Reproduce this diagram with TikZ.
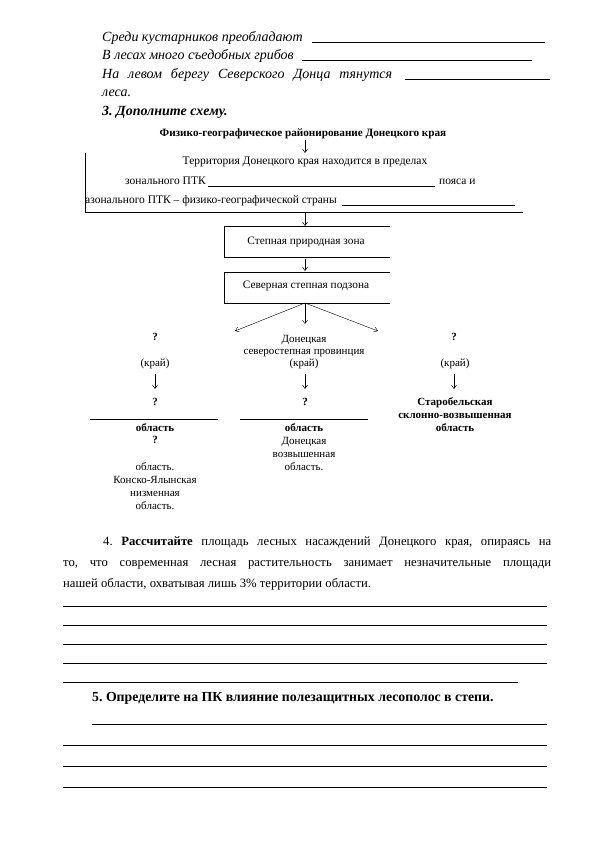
\documentclass[tikz,border=0pt]{standalone}
\usepackage{fontspec}
\setmainfont{Liberation Serif}
\usetikzlibrary{arrows.meta}
\frenchspacing
\tikzset{
  bt/.style={inner sep=0pt, anchor=base west, font=\fontsize{14}{16}\selectfont},
  bti/.style={bt, font=\fontsize{14}{16}\selectfont\itshape},
  ch/.style={inner sep=0pt, anchor=base, font=\fontsize{11}{13}\selectfont},
  chb/.style={ch, font=\fontsize{11}{13}\selectfont\bfseries},
  fr/.style={inner sep=0pt, anchor=base west, font=\fontsize{11.5}{13}\selectfont},
  ul/.style={line width=0.6pt},
  arr/.style={-{Straight Barb[length=3.5pt,width=5pt]}, line width=0.5pt},
  boxn/.style={minimum width=166pt, minimum height=31pt, inner sep=0pt},
  boxt/.style={inner sep=0pt, font=\fontsize{11.3}{13}\selectfont}
}
\begin{document}
\begin{tikzpicture}[x=1pt,y=-1pt]
\useasboundingbox[fill=white] (0,0) rectangle (595,842);

% --- top lines
\node[bti] (t1) at (102,42) {Среди кустарников преобладают};
\draw[ul] (312,42.5) -- (545,42.5);
\node[bti] (t2) at (102,60) {В лесах много съедобных грибов};
\draw[ul] (302,60.5) -- (532,60.5);
\node[bti] (t3) at (102,79) {\makebox[290pt][s]{На левом берегу Северского Донца тянутся}};
\draw[ul] (405,79.5) -- (550,79.5);
\node[bti] (t4) at (102,97) {леса.};
\node[bt, font=\fontsize{14}{16}\selectfont\bfseries\itshape] (t5) at (102,116) {3. Дополните схему.};

% --- scheme title
\node[chb, font=\fontsize{11.2}{13}\selectfont\bfseries] (title) at (303,137) {Физико-географическое районирование Донецкого края};
\coordinate (frtop) at (305,153);
\draw[arr] (305,140) -- (frtop);

% --- frame
\draw[line width=0.6pt] (85,153) -- (85,212) -- (523,212);
\node[fr, anchor=base] (f1) at (305,165) {Территория Донецкого края находится в пределах};
\node[fr] (f2) at (125,185) {зонального ПТК};
\draw[ul] (208,186) -- (435,186);
\node[fr] (f3) at (439,185) {пояса и};
\node[fr] (f4) at (85,204) {азонального ПТК – физико-географической страны};
\draw[ul] (342,205) -- (515,205);

% --- boxes
\node[boxn] (b1) at (307,242) {};
\node[boxt] (b1t) at (306,242) {Степная природная зона};
\draw[line width=0.6pt] (b1.north east) -- (b1.north west) -- (b1.south west) -- (b1.south east);
\node[boxn] (b2) at (307,287.5) {};
\node[boxt] (b2t) at (306,286) {Северная степная подзона};
\draw[line width=0.6pt] (b2.north east) -- (b2.north west) -- (b2.south west) -- (b2.south east);
\draw[arr] (305,213) -- (305,226);
\draw[arr] (305,259) -- (305,271);

% --- three branches
\coordinate (br) at (305,303);
\coordinate (brl) at (235,331);
\coordinate (brm) at (305,324);
\coordinate (brr) at (378,331);
\draw[arr, line width=0.4pt] (br) -- (brl);
\draw[arr, line width=0.4pt] (br) -- (brm);
\draw[arr, line width=0.4pt] (br) -- (brr);

% --- left column
\node[chb] (lq1) at (155,340) {?};
\node[ch] (lk) at (155,366) {(край)};
\draw[arr] (155,374) -- (155,389);
\node[chb] (lq2) at (155,405) {?};
\draw[ul] (90,419.5) -- (218,419.5);
\node[chb] (lo) at (155,431) {область};
\node[chb] (lq3) at (155,443) {?};
\node[ch] (lo2) at (155,470) {область.};
\node[ch] (lk2) at (155,483) {Конско-Ялынская};
\node[ch] (lk3) at (155,496) {низменная};
\node[ch] (lk4) at (155,509) {область.};

% --- middle column
\node[ch] (m1) at (304,342) {Донецкая};
\node[ch] (m2) at (304,354) {северостепная провинция};
\node[ch] (mk) at (304,366) {(край)};
\draw[arr] (305,374) -- (305,389);
\node[chb] (mq) at (305,405) {?};
\draw[ul] (240,419.5) -- (368,419.5);
\node[chb] (mo) at (304,431) {область};
\node[ch] (m3) at (304,444) {Донецкая};
\node[ch] (m4) at (304,457) {возвышенная};
\node[ch] (m5) at (304,470) {область.};

% --- right column
\node[chb] (rq) at (454,340) {?};
\node[ch] (rk) at (455,366) {(край)};
\draw[arr] (454,374) -- (454,389);
\node[chb] (r1) at (455,405) {Старобельская};
\node[chb] (r2) at (455,418) {склонно-возвышенная};
\node[chb] (r3) at (455,431) {область};

% --- section 4
\node[bt, font=\fontsize{12.7}{15}\selectfont] (s41) at (103,545) {\makebox[448pt][s]{4. \textbf{Рассчитайте} площадь лесных насаждений Донецкого края, опираясь на}};
\node[bt, font=\fontsize{12.7}{15}\selectfont] (s42) at (63,566) {\makebox[488pt][s]{то, что современная лесная растительность занимает незначительные площади}};
\node[bt, font=\fontsize{12.7}{15}\selectfont] (s43) at (63,587) {нашей области, охватывая лишь 3\% территории области.};
\draw[ul] (63,606) -- (547,606);
\draw[ul] (63,625) -- (547,625);
\draw[ul] (63,644) -- (547,644);
\draw[ul] (63,663) -- (547,663);
\draw[ul] (63,682) -- (518,682);

% --- section 5
\node[bt, font=\fontsize{13.8}{16}\selectfont\bfseries] (s5) at (92,701) {5. Определите на ПК влияние полезащитных лесополос в степи.};
\draw[ul] (92,724) -- (547,724);
\draw[ul] (63,745) -- (547,745);
\draw[ul] (63,766) -- (547,766);
\draw[ul] (63,787) -- (547,787);
\end{tikzpicture}
\end{document}
